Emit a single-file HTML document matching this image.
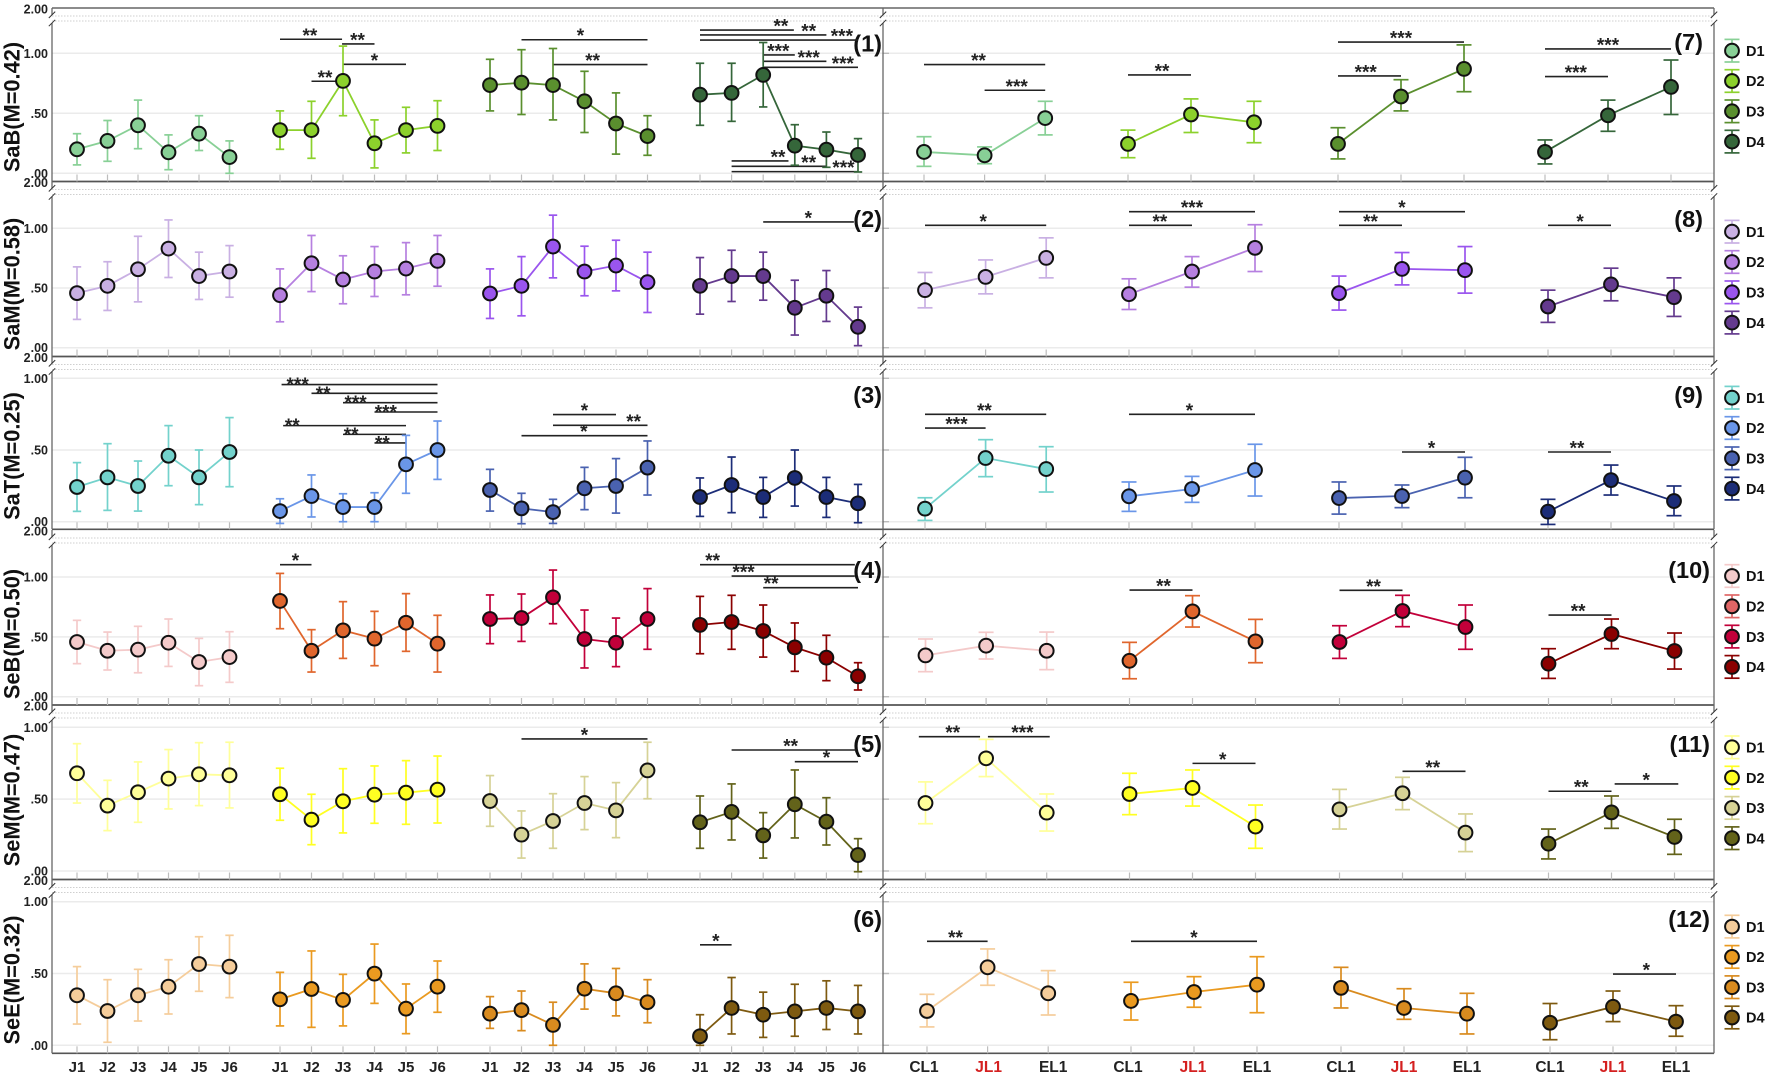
<!DOCTYPE html>
<html lang="en">
<head>
<meta charset="utf-8">
<title>Twelve panel means chart</title>
<style>
html,body{margin:0;padding:0;background:#fff;width:1772px;height:1076px;overflow:hidden}
svg{display:block;font-family:"Liberation Sans",Arial,sans-serif}
</style>
</head>
<body>
<svg id="chart" xmlns="http://www.w3.org/2000/svg" width="1772" height="1076" viewBox="0 0 1772 1076"></svg>
<script>
// ---------- chart values (each array: groups 1-4 with J1..J6, groups 5-8 with CL1, JL1, EL1) ----------
const rowTitles = ["SaB(M=0.42)","SaM(M=0.58)","SaT(M=0.25)","SeB(M=0.50)","SeM(M=0.47)","SeE(M=0.32)"];
const seriesNames = ["D1","D2","D3","D4"];
const jTicks = ["J1","J2","J3","J4","J5","J6"];
const phaseTicks = ["CL1","JL1","EL1"];
const yTickValues = [1, 0.5, 0];
const yTickLabels = ["1.00",".50",".00"];
const yBreakLabel = "2.00";

const sabMean = [[.20,.27,.40,.175,.33,.135],[.36,.36,.77,.25,.36,.395],[.735,.755,.735,.60,.415,.31],[.655,.67,.82,.23,.197,.153],
  [.178,.15,.46],[.245,.49,.425],[.245,.64,.87],[.178,.483,.72]];
const sabUpper = [[.33,.44,.61,.32,.48,.27],[.52,.60,1.06,.445,.55,.605],[.95,1.03,1.04,.85,.67,.48],[.917,.917,1.09,.405,.344,.289],
  [.305,.22,.60],[.36,.62,.60],[.38,.78,1.07],[.278,.61,.944]];
const sabLower = [[.07,.10,.205,.03,.19,0],[.20,.125,.48,.045,.17,.19],[.52,.49,.445,.34,.16,.15],[.40,.433,.553,.067,.05,.011],
  [.058,.08,.32],[.13,.34,.255],[.12,.52,.68],[.078,.35,.49]];

const samMean = [[.457,.518,.657,.83,.60,.638],[.44,.707,.571,.638,.663,.727],[.454,.518,.847,.638,.688,.549],[.518,.60,.60,.334,.435,.175],
  [.482,.593,.752],[.448,.638,.836],[.457,.66,.649],[.345,.53,.423]];
const samUpper = [[.677,.72,.933,1.07,.80,.855],[.66,.94,.77,.847,.88,.94],[.66,.763,1.11,.85,.90,.80],[.755,.816,.80,.565,.646,.34],
  [.63,.735,.92],[.577,.763,1.03],[.6,.797,.847],[.482,.666,.585]];
const samLower = [[.237,.312,.384,.588,.404,.423],[.217,.47,.368,.429,.443,.515],[.245,.267,.585,.435,.476,.295],[.281,.387,.398,.106,.22,.017],
  [.334,.451,.585],[.32,.507,.638],[.315,.526,.457],[.212,.393,.262]];

const satMean = [[.242,.309,.249,.46,.309,.486],[.074,.179,.102,.102,.40,.50],[.221,.093,.067,.233,.249,.377],[.172,.256,.172,.305,.172,.128],
  [.091,.444,.367],[.177,.228,.36],[.165,.179,.307],[.07,.29,.144]];
const satUpper = [[.412,.544,.423,.67,.50,.726],[.16,.326,.195,.202,.602,.702],[.365,.198,.156,.379,.44,.563],[.305,.451,.309,.50,.309,.26],
  [.167,.572,.523],[.277,.316,.54],[.277,.256,.449],[.156,.395,.249]];
const satLower = [[.072,.079,.074,.251,.119,.244],[-.012,.033,0,0,.198,.295],[.074,-.014,-.012,.084,.06,.186],[.037,.063,.03,.109,.03,-.007],
  [.009,.314,.207],[.072,.135,.179],[.053,.098,.167],[-.019,.186,.042]];

const sebMean = [[.457,.384,.393,.451,.29,.331],[.80,.384,.554,.485,.618,.443],[.649,.657,.83,.482,.451,.649],[.60,.624,.549,.412,.326,.17],
  [.345,.426,.384],[.30,.713,.462],[.457,.716,.582],[.276,.524,.382]];
const sebUpper = [[.638,.54,.588,.649,.487,.543],[1.03,.56,.794,.713,.861,.68],[.85,.858,1.058,.724,.657,.903],[.838,.847,.766,.616,.513,.284],
  [.482,.538,.54],[.454,.844,.646],[.593,.847,.766],[.401,.649,.532]];
const sebLower = [[.276,.223,.2,.253,.092,.12],[.568,.206,.32,.259,.379,.206],[.443,.462,.61,.24,.251,.396],[.359,.396,.331,.212,.134,.056],
  [.209,.315,.226],[.15,.582,.284],[.32,.585,.396],[.153,.401,.231]];

const semMean = [[.68,.455,.548,.643,.673,.666],[.534,.357,.485,.531,.545,.566],[.487,.253,.348,.473,.422,.70],[.339,.411,.248,.464,.343,.111],
  [.473,.784,.406],[.536,.578,.309],[.429,.541,.267],[.19,.408,.237]];
const semUpper = [[.886,.631,.759,.845,.893,.896],[.715,.534,.712,.731,.768,.80],[.664,.418,.538,.657,.615,.896],[.522,.606,.406,.703,.51,.225],
  [.62,.916,.536],[.68,.703,.459],[.568,.652,.397],[.292,.522,.36]];
const semLower = [[.473,.281,.339,.432,.455,.439],[.353,.183,.265,.332,.325,.334],[.311,.09,.158,.288,.232,.503],[.158,.216,.09,.23,.181,-.005],
  [.329,.657,.278],[.392,.452,.158],[.292,.427,.135],[.084,.297,.116]];

const seeMean = [[.348,.239,.348,.408,.566,.548],[.32,.392,.316,.499,.255,.408],[.22,.245,.142,.394,.362,.30],[.063,.26,.213,.236,.26,.236],
  [.239,.543,.362],[.309,.371,.422],[.40,.26,.22],[.157,.268,.165]];
const seeUpper = [[.548,.457,.529,.596,.756,.766],[.508,.657,.494,.705,.427,.587],[.339,.378,.30,.567,.535,.457],[.213,.472,.37,.425,.449,.417],
  [.355,.671,.52],[.439,.478,.617],[.543,.394,.362],[.291,.378,.276]];
const seeLower = [[.148,.021,.169,.218,.376,.332],[.135,.125,.135,.292,.081,.23],[.118,.102,0,.252,.205,.157],[0,.079,.055,.063,.11,.079],
  [.128,.418,.211],[.176,.265,.227],[.26,.181,.079],[.039,.165,.063]];

// significance brackets: [group, fromIndex, toIndex, value, labelIndex, stars, closeLabel]
const sabSig = [[1,0,1.97,1.117,.95,"**"],[1,1.97,3,1.078,2.46,"**"],[1,2,4,.908,3,"*"],[1,1,2,.767,1.43,"**"],
  [2,1,5,1.113,2.87,"*"],[2,2,5,.906,3.26,"**"],
  [3,0,2.97,1.194,2.56,"**"],[3,0,4,1.153,3.44,"**"],[3,0,5,1.11,4.49,"***"],
  [3,2,3,.986,2.48,"***"],[3,2,4,.933,3.44,"***"],[3,2,5,.883,4.52,"***"],
  [3,1,2.8,.103,2.47,"**"],[3,1,4,.058,3.44,"**"],[3,1,5,.014,4.54,"***"],
  [4,0,2,.906,.9,"**"],[4,1,2,.692,1.53,"***"],[5,0,1,.82,.54,"**"],[6,0,2,1.094,1,"***"],[6,0,1,.811,.44,"***"],
  [7,0,2,1.036,1,"***"],[7,0,1,.806,.49,"***"]];
const samSig = [[3,2,4.87,1.053,3.43,"*"],[4,0,2,1.025,.96,"*"],[5,0,2,1.139,1,"***"],[5,0,1,1.025,.49,"**"],
  [6,0,2,1.139,1,"*"],[6,0,1,1.025,.5,"**"],[7,0,1,1.025,.51,"*"]];
const satSig = [[1,.05,5,.956,.56,"***",true],[1,1,5,.895,1.37,"**",true],[1,2,5,.83,2.4,"***",true],[1,3,5,.765,3.36,"***",true],
  [1,.1,4,.67,.39,"**",true],[1,2,4,.609,2.26,"**",true],[1,3,4,.549,3.25,"**",true],
  [2,2,4,.747,3,"*"],[2,2,5,.672,4.56,"**"],[2,1,5,.60,2.98,"*"],
  [4,0,2,.749,.98,"**"],[4,0,1,.653,.52,"***"],[5,0,2,.749,.96,"*"],[6,1,2,.486,1.47,"*"],[7,0,1,.486,.46,"**"]];
const sebSig = [[1,0,1,1.103,.49,"*"],[3,0,4.9,1.103,.4,"**"],[3,1,4.9,1.008,1.38,"***"],[3,2,5,.911,2.25,"**"],
  [5,0,1,.891,.54,"**"],[6,0,1,.889,.54,"**"],[7,0,1,.682,.47,"**"]];
const semSig = [[2,1,5,.919,3,"*"],[3,1,4.95,.842,2.87,"**"],[3,3,5,.761,4,"*"],
  [4,-.11,.9,.935,.45,"**"],[4,1.03,2.05,.935,1.6,"***"],[5,1,2,.749,1.48,"*"],[6,1,2,.694,1.48,"**"],
  [7,0,1,.555,.52,"**"],[7,1.05,2.06,.606,1.55,"*"]];
const seeSig = [[3,0,1,.70,.5,"*"],[4,0,1,.724,.47,"**"],[5,0,2,.724,1,"*"],[7,1,2,.496,1.53,"*"]];

const meanByRow = [sabMean,samMean,satMean,sebMean,semMean,seeMean];
const upperByRow = [sabUpper,samUpper,satUpper,sebUpper,semUpper,seeUpper];
const lowerByRow = [sabLower,samLower,satLower,sebLower,semLower,seeLower];
const sigByRow = [sabSig,samSig,satSig,sebSig,semSig,seeSig];

// ---------- layout ----------
const colorsByRow = [
  ["#88d096","#8cd12c","#5a8f2e","#35663a"],
  ["#c9b0e3","#b680e0","#9a55ee","#643a8e"],
  ["#73d2cc","#6a96e8","#4a62b0","#1c2d78"],
  ["#f4caca","#e0662d","#c2003a","#8b0000"],
  ["#ffff99","#ffff22","#d6d296","#63631a"],
  ["#f5cd9b","#ea9a20","#d98b1f","#7e5a10"]];
const legendColor10 = "#e06666";
const rowTops = [8,181.5,356.5,530,705,879.5];
const rowBases = [181.5,356.5,529.3,705,879.5,1053.3];
const rowY100 = [53.3,228.3,378.3,577,727.3,901.7];
const rowY0 = [173.3,347.7,521.7,696.7,871,1045.3];
const titleCenters = [107,284,456,634,800,980];
const panelBaselines = [[51.5,50],[227,227],[403,403],[578,578],[752,752],[927,927]];
const legendStarts = [50.7,231.7,397.7,576,747.3,926.6];
const rightShift = [-1,0,0,.5,.5,2];
const lastGroupShift = [-2,0,0,0,0,0];
const groupStarts = [77,280,490,700,925,1129,1339,1548];
const groupSteps = [30.5,31.5,31.5,31.6,60.6,63,63,63];
const axisXs = [52,883,1714];

const svg = document.getElementById('chart');
const NS = 'http://www.w3.org/2000/svg';
function add(tag, attrs, text) {
  const el = document.createElementNS(NS, tag);
  for (const k in attrs) el.setAttribute(k, attrs[k]);
  if (text !== undefined) el.textContent = text;
  svg.appendChild(el);
  return el;
}
function yScale(r, v) { return rowY0[r] + (rowY100[r] - rowY0[r]) * v; }
function xScale(r, g, i) { return groupStarts[g] + (g > 3 ? rightShift[r] : 0) + (g === 7 ? lastGroupShift[r] : 0) + groupSteps[g] * i; }

rowTitles.forEach(function (title, r) {
  const top = rowTops[r], base = rowBases[r];

  // horizontal gridlines
  yTickValues.forEach(function (v, t) {
    const grid = add('line', {x1: 52, x2: 1714, y1: yScale(r, v), y2: yScale(r, v), stroke: '#ebebeb', 'stroke-width': 1.5});
    
    
    const lab = add('text', {x: 48, y: yScale(r, v) + 4.5, 'text-anchor': 'end', 'font-size': 12.5, 'font-weight': 'bold', fill: '#222'}, yTickLabels[t]);
    
    
    [883].forEach(function (ax) {
      const tk = add('line', {x1: ax, x2: ax + 6, y1: yScale(r, v), y2: yScale(r, v), stroke: '#bbb', 'stroke-width': 1.4});
      
      
    });
  });

  // dotted break lines
  [8, 13].forEach(function (d) {
    const dot = add('line', {x1: 52, x2: 1714, y1: top + d, y2: top + d, stroke: '#cfcfcf', 'stroke-width': 1, 'stroke-dasharray': '1.5 1.5'});
    
    
  });

  // frame
  if (r === 0) {
    const topLine = add('line', {x1: 52, x2: 1714, y1: top, y2: top, stroke: '#666', 'stroke-width': 1.5});
    
    
  }
  const baseLine = add('line', {x1: 52, x2: 1714, y1: base, y2: base, stroke: '#555', 'stroke-width': 1.7});
  
  

  axisXs.forEach(function (ax) {
    const upper = add('line', {x1: ax, x2: ax, y1: top, y2: top + 7, stroke: '#666', 'stroke-width': 1.3});
    
    
    const lower = add('line', {x1: ax, x2: ax, y1: top + 15, y2: base, stroke: '#666', 'stroke-width': 1.3});
    
    
    [0, 8.2].forEach(function (d) {
      const slash = add('line', {x1: ax - 3.2, x2: ax + 3.2, y1: top + 10 + d, y2: top + 3.6 + d, stroke: '#333', 'stroke-width': 1});
      
      
    });
  });

  const brk = add('text', {x: 48, y: top + 5.5, 'text-anchor': 'end', 'font-size': 12.5, 'font-weight': 'bold', fill: '#222'}, yBreakLabel);
  
  

  // row title
  const tc = titleCenters[r];
  const t = add('text', {x: 19.5, y: tc, transform: 'rotate(-90 19.5 ' + tc + ')', 'text-anchor': 'middle', 'font-size': 21.8, 'font-weight': 'bold', fill: '#111'}, title);
  
  

  // panel numbers
  const left = add('text', {x: 882, y: panelBaselines[r][0], 'text-anchor': 'end', 'font-size': 23.5, 'font-weight': 'bold', fill: '#111'}, '(' + (r + 1) + ')');
  
  
  const rightNo = r + 7;
  const right = add('text', {x: rightNo > 9 ? 1710 : 1703, y: panelBaselines[r][1], 'text-anchor': 'end', 'font-size': 23.5, 'font-weight': 'bold', fill: '#111'}, '(' + rightNo + ')');
  
  

  // ticks on baseline + x labels
  meanByRow[r].forEach(function (vals, g) {
    vals.forEach(function (_, i) {
      const x = xScale(r, g, i);
      const tick = add('line', {x1: x, x2: x, y1: base - 7, y2: base, stroke: '#bdbdbd', 'stroke-width': 1.2});
      
      
      if (r === 5) {
        const name = g < 4 ? jTicks[i] : phaseTicks[i];
        const shift = g === 4 ? [-3, 1, 5][i] : (g === 5 ? [-3, -1, 0][i] : 0);
        const lab = add('text', {x: x + shift, y: 1072, 'text-anchor': 'middle', 'font-size': g < 4 ? 15 : 15.5, 'font-weight': 'bold', fill: (g > 3 && i === 1) ? '#d42020' : '#222'}, name);
        
        
      }
    });
  });

  // significance bars
  sigByRow[r].forEach(function (s) {
    const y = yScale(r, s[3]);
    const bar = add('line', {x1: xScale(r, s[0], s[1]), x2: xScale(r, s[0], s[2]), y1: y, y2: y, stroke: '#222', 'stroke-width': 1.6});
    
    
    const star = add('text', {x: xScale(r, s[0], s[4]), y: y + (s[6] ? 6.5 : 2.5), 'text-anchor': 'middle', 'font-size': 19, 'font-weight': 'bold', fill: '#222'}, s[5]);
    
    
  });

  // series
  meanByRow[r].forEach(function (vals, g) {
    const color = colorsByRow[r][g % 4];
    const cap = g < 4 ? 4.2 : 7.5;
    vals.forEach(function (_, i) {
      const x = xScale(r, g, i);
      const yU = yScale(r, upperByRow[r][g][i]);
      const yL = yScale(r, lowerByRow[r][g][i]);
      const stem = add('line', {x1: x, x2: x, y1: yU, y2: yL, stroke: color, 'stroke-width': 1.7});
      
      
      [yU, yL].forEach(function (yc) {
        const c = add('line', {x1: x - cap, x2: x + cap, y1: yc, y2: yc, stroke: color, 'stroke-width': 1.7});
        
        
      });
    });
    const pts = vals.map(function (v, i) { return xScale(r, g, i) + ',' + yScale(r, v); }).join(' ');
    const line = add('polyline', {points: pts, fill: 'none', stroke: color, 'stroke-width': 1.8});
    
    
    vals.forEach(function (v, i) {
      const dot = add('circle', {cx: xScale(r, g, i), cy: yScale(r, v), r: 6.9, fill: color, stroke: '#111', 'stroke-width': 2});
      
      
    });
  });

  // legend
  seriesNames.forEach(function (name, k) {
    const ly = legendStarts[r] + 30.3 * k;
    const color = (r === 3 && k === 1) ? legendColor10 : colorsByRow[r][k];
    const stem = add('line', {x1: 1732, x2: 1732, y1: ly - 11.3, y2: ly + 11.3, stroke: color, 'stroke-width': 1.7});
    
    
    [-11.3, 11.3].forEach(function (d) {
      const c = add('line', {x1: 1724.5, x2: 1739.5, y1: ly + d, y2: ly + d, stroke: color, 'stroke-width': 1.7});
      
      
    });
    const m = add('circle', {cx: 1732, cy: ly, r: 6.9, fill: color, stroke: '#111', 'stroke-width': 2});
    
    
    const lt = add('text', {x: 1746, y: ly + 5.2, 'font-size': 14.5, 'font-weight': 'bold', fill: '#111'}, name);
    
    
  });
});
</script>
</body>
</html>
